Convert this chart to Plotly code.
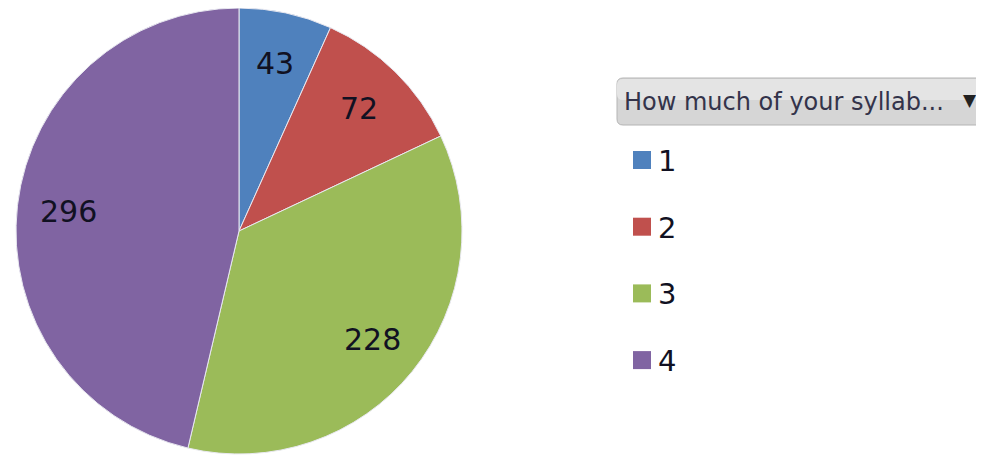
import numpy as np
import plotly.graph_objects as go

W, H = 984, 457
OFF = 8  # page body margin

labels = ["1", "2", "3", "4"]
values = [43, 72, 228, 296]
colors = ["#4F81BD", "#C0504D", "#9BBB59", "#8064A2"]
title = "How much of your syllab..."

# pie placement in pixels
cx, cy, R = 239, 231, 223

def px(x, y):
    return (x - OFF) / W, 1 - (y - OFF) / H

fig = go.Figure()
fig.add_trace(go.Pie(
    labels=labels, values=values, sort=False, direction="clockwise", rotation=0,
    marker=dict(colors=colors, line=dict(color="#e8e8f0", width=1)),
    textinfo="none", showlegend=False, hoverinfo="label+value",
    domain=dict(x=[(cx - R - OFF) / W, (cx + R - OFF) / W],
                y=[max(0, 1 - (cy + R - OFF) / H), min(1, 1 - (cy - R - OFF) / H)]),
))

# value labels at slice midpoints
total = sum(values)
cum = np.cumsum([0] + values[:-1])
for v, c0 in zip(values, cum):
    a = np.deg2rad((c0 + v / 2) / total * 360)
    x, y = px(cx + 0.77 * R * np.sin(a), cy - 0.77 * R * np.cos(a))
    fig.add_annotation(x=x, y=y, xref="paper", yref="paper", text=str(v), showarrow=False,
                       xanchor="center", yanchor="middle",
                       font=dict(family="DejaVu Sans", size=30, color="#111122"))

# dropdown-like header
bx0, by0, bx1, by1, r = 617, 78, 1000, 125, 6
def pth(x, y):
    a, b = px(x, y)
    return f"{a} {b}"
def box(y0, y1, fill, line):
    path = (f"M {pth(bx0 + r, y0)} L {pth(bx1, y0)} L {pth(bx1, y1)} L {pth(bx0 + r, y1)} "
            f"Q {pth(bx0, y1)} {pth(bx0, y1 - r)} L {pth(bx0, y0 + r)} Q {pth(bx0, y0)} {pth(bx0 + r, y0)} Z")
    fig.add_shape(type="path", path=path, xref="paper", yref="paper", fillcolor=fill, line=line)
box(by0, by1, "#d6d6d6", dict(color="#b4b4b4", width=1))
box(by0 + 1, by0 + 22, "#e4e4e4", dict(width=0))
tx, ty = px(622, 102)
fig.add_annotation(x=tx, y=ty, xref="paper", yref="paper", xanchor="left", yanchor="middle",
                   text=title, showarrow=False, font=dict(family="DejaVu Sans", size=24, color="#33334a"))
ax, ay = px(970, 100)
fig.add_annotation(x=ax, y=ay, xref="paper", yref="paper", xanchor="center", yanchor="middle",
                   text="▼", showarrow=False, font=dict(family="DejaVu Sans", size=17, color="#222222"))

# legend entries
for i, (lab, col) in enumerate(zip(labels, colors)):
    yc = 160 + i * 66.7
    x0, y0 = px(633, yc - 9)
    x1, y1 = px(651, yc + 9)
    fig.add_shape(type="rect", xref="paper", yref="paper", x0=x0, x1=x1, y0=y1, y1=y0,
                  fillcolor=col, line=dict(width=0))
    lx, ly = px(656, yc + 1)
    fig.add_annotation(x=lx, y=ly, xref="paper", yref="paper", xanchor="left", yanchor="middle",
                       text=lab, showarrow=False, font=dict(family="DejaVu Sans", size=29, color="#111122"))

fig.update_layout(width=W, height=H, margin=dict(l=0, r=0, t=0, b=0),
                  paper_bgcolor="white", plot_bgcolor="white")
fig.write_html("out.html")
